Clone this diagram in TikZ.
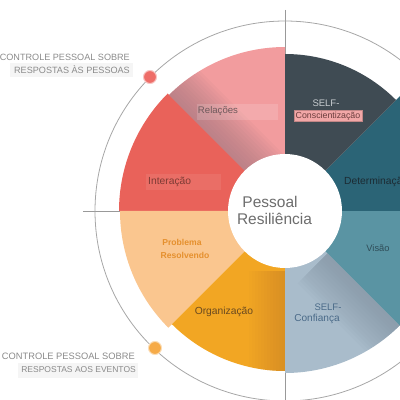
\documentclass[tikz,border=0pt]{standalone}
\usepackage{fontspec}
\setmainfont{Liberation Sans}
\definecolor{cRel}{HTML}{F29C9E}
\definecolor{cRelShade}{HTML}{A87A82}
\definecolor{cInt}{HTML}{E9625A}
\definecolor{cSelfC}{HTML}{3F4B53}
\definecolor{cDet}{HTML}{2B6476}
\definecolor{cVis}{HTML}{5A94A3}
\definecolor{cConf}{HTML}{A9BCCB}
\definecolor{cConfShade}{HTML}{7F8F9E}
\definecolor{cOrg}{HTML}{F2A623}
\definecolor{cOrgShade}{HTML}{C98229}
\definecolor{cProb}{HTML}{FAC68F}
\definecolor{tRel}{HTML}{6E5A5C}
\definecolor{tInt}{HTML}{7D3B35}
\definecolor{tSelf}{HTML}{C8CDD0}
\definecolor{tCons}{HTML}{6B3D3D}
\definecolor{bCons}{HTML}{F2A7A7}
\definecolor{tDet}{HTML}{1C2B33}
\definecolor{tVis}{HTML}{2F4D58}
\definecolor{tConf}{HTML}{4A6A88}
\definecolor{tOrg}{HTML}{6A4A20}
\definecolor{tProb}{HTML}{E5902E}
\definecolor{tCen}{HTML}{6D6D6D}
\definecolor{tSide}{HTML}{8A8A8A}
\definecolor{dotRed}{HTML}{EE6D68}
\definecolor{dotOrg}{HTML}{F6AB48}
\begin{document}
\begin{tikzpicture}[x=1pt,y=1pt,
  guide/.style={draw=gray!80, line width=0.7pt},
  ring/.style={draw=gray!70, line width=0.8pt},
  dotnode/.style={circle, minimum size=13pt, inner sep=0pt, draw=white!60!#1, line width=1pt, fill=#1},
  lbl/.style={inner sep=1pt, font=\fontsize{10}{12}\selectfont},
  side/.style={text=tSide, align=right, anchor=east, inner sep=1pt}]
\useasboundingbox (0,0) rectangle (400,400);
\clip (0,0) rectangle (400,400);
\coordinate (C) at (285,189);
% guide lines
\coordinate (vTop) at (285,390);
\coordinate (vBot) at (285,0);
\coordinate (hL) at (83,189);
\draw[guide] (vTop) -- (vBot);
\draw[guide] (hL) -- (C);
% outer ring
\draw[ring] (C) circle[radius=190];
% wedges
\fill[cRel]   (C) -- ++(90:164)  arc[start angle=90,  end angle=135, radius=164] -- cycle;
\fill[cInt]   (C) -- ++(135:166) arc[start angle=135, end angle=180, radius=166] -- cycle;
\fill[cProb]  (C) -- ++(180:165) arc[start angle=180, end angle=225, radius=165] -- cycle;
\fill[cOrg]   (C) -- ++(225:160) arc[start angle=225, end angle=270, radius=160] -- cycle;
\fill[cConf]  (C) -- ++(270:162) arc[start angle=270, end angle=315, radius=162] -- cycle;
\fill[cVis]   (C) -- ++(315:175) arc[start angle=315, end angle=360, radius=175] -- cycle;
\fill[cDet]   (C) -- ++(0:175)   arc[start angle=0,   end angle=45,  radius=175] -- cycle;
\fill[cSelfC] (C) -- ++(45:157)  arc[start angle=45,  end angle=90,  radius=157] -- cycle;
% soft shadows (stacked translucent strips)
\begin{scope}
  \clip (C) -- ++(90:164) arc[start angle=90, end angle=135, radius=164] -- cycle;
  \begin{scope}[shift={(C)}, rotate=135]
    \foreach \w in {3,6,...,39} \fill[cRelShade, opacity=0.08] (0,0) rectangle (170,-\w);
  \end{scope}
\end{scope}
\begin{scope}
  \clip (C) -- ++(270:162) arc[start angle=270, end angle=315, radius=162] -- cycle;
  \begin{scope}[shift={(C)}, rotate=315]
    \foreach \w in {3,6,...,42} \fill[cConfShade, opacity=0.06] (60,0) rectangle (170,-\w);
  \end{scope}
\end{scope}
\begin{scope}
  \clip (C) -- ++(225:160) arc[start angle=225, end angle=270, radius=160] -- cycle;
  \begin{scope}[shift={(C)}, rotate=270]
    \foreach \w in {3,6,...,36} \fill[cOrgShade, opacity=0.05] (60,0) rectangle (170,-\w);
  \end{scope}
\end{scope}
% centre
\fill[white] (C) circle[radius=57];
% dots
\node[dotnode=dotRed] (dotP) at (150,323) {};
\node[dotnode=dotOrg] (dotE) at (155,52) {};
% side texts
\fill[gray!8] (10,323) rectangle (133,337);
\fill[gray!8] (18,22) rectangle (138,37);
\node[side, font=\fontsize{9.1}{11}\selectfont] (sideP1) at (131,343) {CONTROLE PESSOAL SOBRE};
\node[side, font=\fontsize{9.1}{11}\selectfont] (sideP2) at (131,330) {RESPOSTAS ÀS PESSOAS};
\node[side, font=\fontsize{9.3}{11}\selectfont] (sideE1) at (136,44) {CONTROLE PESSOAL SOBRE};
\node[side, font=\fontsize{8.5}{11}\selectfont] (sideE2) at (137,30) {RESPOSTAS AOS EVENTOS};
% centre text
\node[text=tCen, font=\fontsize{15.5}{18}\selectfont, inner sep=0pt] (cen1) at (270,198) {Pessoal};
\node[text=tCen, font=\fontsize{15.5}{18}\selectfont, inner sep=0pt] (cen2) at (274.5,181) {Resiliência};
% wedge labels
\fill[white, opacity=0.15] (197,280) rectangle (278,296);
\node[lbl, text=tRel, font=\fontsize{9.6}{12}\selectfont] (lRel) at (218,289) {Relações};
\fill[white, opacity=0.08] (146,210) rectangle (221,226);
\node[lbl, text=tInt, font=\fontsize{10.3}{12}\selectfont, anchor=west] (lInt) at (147,218) {Interação};
\node[lbl, text=tSelf, font=\fontsize{9.5}{12}\selectfont] (lSelf1) at (326,297) {SELF-};
\node[lbl, text=tCons, fill=bCons, draw=bCons!80!black, line width=0.3pt, inner sep=1.5pt, font=\fontsize{8.8}{11}\selectfont] (lSelf2) at (328,284) {Conscientização};
\node[lbl, text=tDet, font=\fontsize{10.3}{12}\selectfont, anchor=west] (lDet) at (343,218) {Determinação};
\node[lbl, text=tVis, font=\fontsize{9.3}{12}\selectfont] (lVis) at (378,152) {Visão};
\node[lbl, text=tProb, font=\fontsize{8.6}{11}\selectfont\bfseries] (lProb1) at (182,158) {Problema};
\node[lbl, text=tProb, font=\fontsize{8.6}{11}\selectfont\bfseries] (lProb2) at (185,145) {Resolvendo};
\node[lbl, text=tOrg, font=\fontsize{10.3}{12}\selectfont] (lOrg) at (224,88) {Organização};
\node[lbl, text=tConf, font=\fontsize{9.5}{12}\selectfont] (lConf1) at (328,93) {SELF-};
\node[lbl, text=tConf, font=\fontsize{10.1}{12}\selectfont] (lConf2) at (317,81) {Confiança};
\end{tikzpicture}
\end{document}
